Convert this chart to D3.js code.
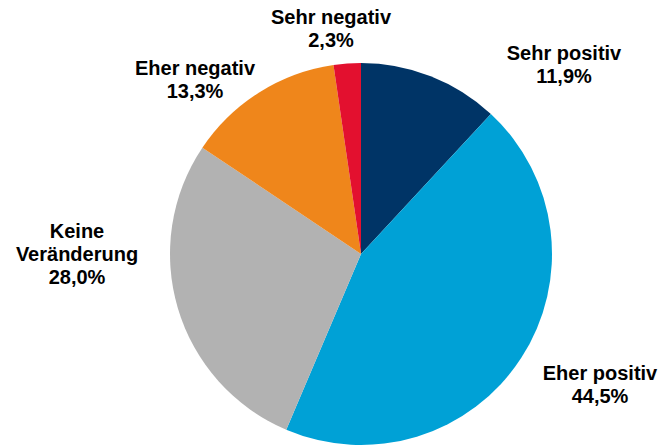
<!DOCTYPE html>
<html>
<head>
<meta charset="utf-8">
<script src="https://cdn.jsdelivr.net/npm/d3@7"></script>
<style>
  body { margin: 0; background: #fff; }
  svg { display: block; }
</style>
</head>
<body>
<div id="chart"></div>
<script>
const categories = ['Sehr positiv', 'Eher positiv', 'Keine Veränderung', 'Eher negativ', 'Sehr negativ'];
const values = [11.9, 44.5, 28.0, 13.3, 2.3];
const colours = ['#003466', '#00a1d6', '#b2b2b2', '#ef861b', '#e3102f'];

// label anchor points (Excel-style placement), relative to the pie centre
const labelPos = [
  { dx: 203, dy: -194, lines: ['Sehr positiv'] },
  { dx: 239, dy: 126, lines: ['Eher positiv'] },
  { dx: -284, dy: -16, lines: ['Keine', 'Veränderung'] },
  { dx: -166, dy: -179, lines: ['Eher negativ'] },
  { dx: -30, dy: -230, lines: ['Sehr negativ'] }
];

const config = { width: 664, height: 446, cx: 361, cy: 254, radius: 191, fontSize: 20, lineHeight: 23 };

const svg = d3.select('#chart').append('svg')
  .attr('width', config.width)
  .attr('height', config.height);

const g = svg.append('g')
  .attr('transform', 'translate(' + config.cx + ',' + config.cy + ')');

const pie = d3.pie().sort(null).value(d => d.value);
const arc = d3.arc().innerRadius(0).outerRadius(config.radius);
const data = categories.map((c, i) => ({ name: c, value: values[i], colour: colours[i] }));

g.selectAll('path.slice')
  .data(pie(data))
  .join('path')
  .attr('class', 'slice')
  .attr('d', arc)
  .attr('fill', d => d.data.colour);

const fmt = v => d3.format('.1f')(v).replace('.', ',') + '%';

const labels = g.selectAll('text.label')
  .data(data)
  .join('text')
  .attr('class', 'label')
  .attr('text-anchor', 'middle')
  .attr('font-family', '"Liberation Sans", Arial, sans-serif')
  .attr('font-weight', 'bold')
  .attr('font-size', config.fontSize)
  .attr('fill', '#000');

labels.each(function (d, i) {
  const p = labelPos[i];
  const lines = p.lines.concat([fmt(d.value)]);
  const t = d3.select(this);
  lines.forEach((line, j) => {
    t.append('tspan')
      .attr('x', p.dx)
      .attr('y', p.dy + j * config.lineHeight)
      .text(line);
  });
});
</script>
</body>
</html>
